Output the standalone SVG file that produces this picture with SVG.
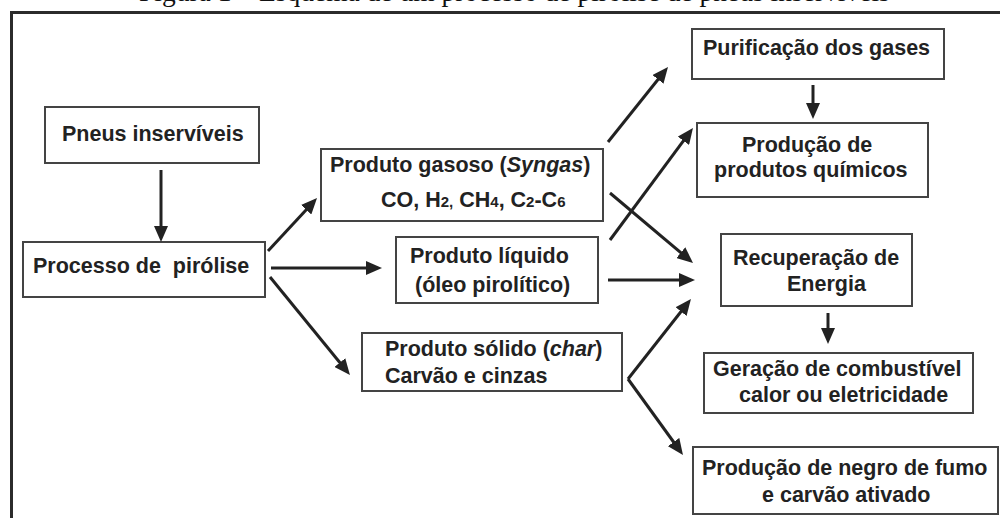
<svg xmlns="http://www.w3.org/2000/svg" width="1000" height="518" viewBox="0 0 1000 518">
<defs>
<style>
.box{fill:#fff;stroke:#444;stroke-width:2}
.t{font-family:"Liberation Sans",Arial,sans-serif;font-weight:bold;font-size:21.5px;fill:#222}
.sub{font-size:15px}
.ar{stroke:#222;stroke-width:3;fill:none;marker-end:url(#ah)}
.frame{stroke:#2b2b2b;stroke-width:3;fill:none}
</style>
<marker id="ah" viewBox="0 0 16 14" refX="8" refY="7" markerWidth="16" markerHeight="14" markerUnits="userSpaceOnUse" orient="auto">
<path d="M0,0 L16,7 L0,14 z" fill="#222"/>
</marker>
</defs>
<rect width="1000" height="518" fill="#fff"/>
<text x="139" y="0.5" font-family="'Liberation Serif','Times New Roman',serif" font-size="27.5" fill="#111">Figura 1 – Esquema de um processo de pirólise de pneus inservíveis</text>
<path class="frame" d="M11.5,518 V12.5 H1000"/>

<g id="pneus"><rect class="box" x="45" y="107" width="214" height="56"/><text class="t" x="62" y="141">Pneus inservíveis</text></g>
<g id="processo"><rect class="box" x="23" y="242" width="242" height="55"/><text class="t" x="33" y="273" style="white-space:pre">Processo de  pirólise</text></g>
<g id="gasoso"><rect class="box" x="321" y="149" width="282" height="72"/><text class="t" x="330" y="172">Produto gasoso (<tspan font-style="italic">Syngas</tspan>)</text><text class="t" x="381" y="207">CO, H<tspan class="sub">2,</tspan> CH<tspan class="sub">4</tspan>, C<tspan class="sub">2</tspan>-C<tspan class="sub">6</tspan></text></g>
<g id="liquido"><rect class="box" x="396" y="237" width="202" height="66"/><text class="t" x="410" y="263">Produto líquido</text><text class="t" x="415" y="292">(óleo pirolítico)</text></g>
<g id="solido"><rect class="box" x="362" y="333" width="260" height="58"/><text class="t" x="385" y="356">Produto sólido (<tspan font-style="italic">char</tspan>)</text><text class="t" x="385" y="383">Carvão e cinzas</text></g>
<g id="purificacao"><rect class="box" x="692" y="29" width="252" height="50"/><text class="t" x="703" y="55">Purificação dos gases</text></g>
<g id="quimicos"><rect class="box" x="697" y="123" width="231" height="74"/><text class="t" x="742" y="152">Produção de</text><text class="t" x="714" y="177">produtos químicos</text></g>
<g id="recuperacao"><rect class="box" x="721" y="234" width="191" height="72"/><text class="t" x="733" y="265">Recuperação de</text><text class="t" x="787" y="291">Energia</text></g>
<g id="geracao"><rect class="box" x="704" y="353" width="269" height="60"/><text class="t" x="713" y="376">Geração de combustível</text><text class="t" x="739" y="402">calor ou eletricidade</text></g>
<g id="negro"><rect class="box" x="693" y="447" width="305" height="67"/><text class="t" x="702" y="475">Produção de negro de fumo</text><text class="t" x="762" y="502">e carvão ativado</text></g>

<g id="connectors">
<line class="ar" x1="161" y1="170" x2="161" y2="234"/>
<line class="ar" x1="268" y1="251" x2="311.6" y2="203.9"/>
<line class="ar" x1="271" y1="268" x2="374" y2="268"/>
<line class="ar" x1="270" y1="277" x2="344.9" y2="368.8"/>
<line class="ar" x1="608" y1="142" x2="663" y2="73.2"/>
<line class="ar" x1="813" y1="85" x2="813" y2="111"/>
<line class="ar" x1="610" y1="240" x2="688.2" y2="134.4"/>
<line class="ar" x1="610" y1="193" x2="686.9" y2="257.8"/>
<line class="ar" x1="608" y1="280" x2="687" y2="280"/>
<line class="ar" x1="628" y1="379" x2="686" y2="305.3"/>
<line class="ar" x1="628" y1="379" x2="678.3" y2="448.5"/>
<line class="ar" x1="828" y1="313" x2="828" y2="336"/>
</g>
</svg>
